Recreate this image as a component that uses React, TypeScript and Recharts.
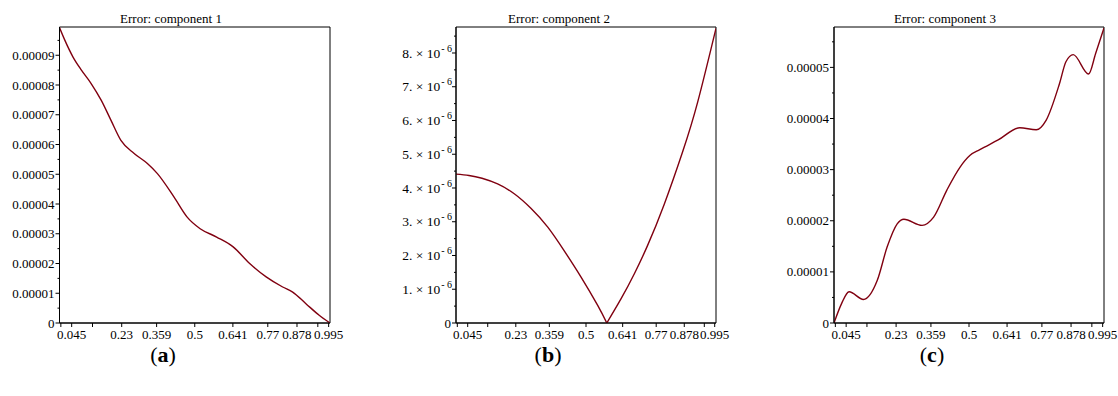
import React from 'react';
import { LineChart, Line, XAxis, YAxis, ReferenceArea } from 'recharts';

// shared x axis: node positions, labels shown only where they fit
const xTicks = [0.005, 0.045, 0.122, 0.23, 0.359, 0.5, 0.641, 0.77, 0.878, 0.955, 0.995];
const xTickLabels = ['', '0.045', '', '0.23', '0.359', '0.5', '0.641', '0.77', '0.878', '', '0.995'];

// component 1
const xA = [0, 0.02, 0.05, 0.081, 0.117, 0.154, 0.19, 0.227, 0.276, 0.325, 0.362, 0.423, 0.472, 0.52, 0.581, 0.642, 0.703, 0.764, 0.825, 0.862, 0.911, 0.96, 1.0];
const errA = [9.93e-5, 9.5e-5, 8.94e-5, 8.5e-5, 8.05e-5, 7.49e-5, 6.82e-5, 6.14e-5, 5.7e-5, 5.36e-5, 5.02e-5, 4.24e-5, 3.56e-5, 3.17e-5, 2.89e-5, 2.56e-5, 2.0e-5, 1.55e-5, 1.21e-5, 1.04e-5, 0.65e-5, 0.26e-5, 0];
const yTicksA = [0, 1e-5, 2e-5, 3e-5, 4e-5, 5e-5, 6e-5, 7e-5, 8e-5, 9e-5];
const yLabelsA = ['0', '0.00001', '0.00002', '0.00003', '0.00004', '0.00005', '0.00006', '0.00007', '0.00008', '0.00009'];
const yTopA = 9.95e-5;

// component 2 (touches zero at x = 0.58)
const xB = [0, 0.05, 0.1, 0.16, 0.224, 0.288, 0.353, 0.417, 0.481, 0.545, 0.58, 0.635, 0.686, 0.737, 0.801, 0.872, 0.93, 1.0];
const errB = [4.41e-6, 4.37e-6, 4.29e-6, 4.12e-6, 3.83e-6, 3.4e-6, 2.84e-6, 2.13e-6, 1.36e-6, 0.52e-6, 0, 0.72e-6, 1.46e-6, 2.3e-6, 3.52e-6, 5.08e-6, 6.56e-6, 8.73e-6];
const yTicksB = [0, 1e-6, 2e-6, 3e-6, 4e-6, 5e-6, 6e-6, 7e-6, 8e-6];
const yMantissaB = ['0', '1.', '2.', '3.', '4.', '5.', '6.', '7.', '8.'];
const yTopB = 8.77e-6;

// component 3
const xC = [0, 0.028, 0.056, 0.109, 0.16, 0.197, 0.234, 0.259, 0.326, 0.369, 0.418, 0.467, 0.504, 0.54, 0.608, 0.688, 0.749, 0.786, 0.835, 0.859, 0.886, 0.943, 0.969, 1.0];
const errC = [0, 0.38e-5, 0.61e-5, 0.46e-5, 0.83e-5, 1.49e-5, 1.94e-5, 2.03e-5, 1.91e-5, 2.07e-5, 2.6e-5, 3.05e-5, 3.28e-5, 3.39e-5, 3.58e-5, 3.82e-5, 3.78e-5, 3.97e-5, 4.68e-5, 5.11e-5, 5.25e-5, 4.87e-5, 5.27e-5, 5.77e-5];
const yTicksC = [0, 1e-5, 2e-5, 3e-5, 4e-5, 5e-5];
const yLabelsC = ['0', '0.00001', '0.00002', '0.00003', '0.00004', '0.00005'];
const yTopC = 5.79e-5;

const FONT = '"Liberation Serif", "Times New Roman", serif';
const LINE = '#800010';
const CHART_H = 350;
const TICK_FS = 13;

// major ticks plus one minor tick halfway between each pair
function withMinor(major: number[], top: number) {
  const step = major[1] - major[0];
  const out: number[] = [];
  major.forEach((m) => {
    out.push(m);
    if (m + step / 2 < top) out.push(m + step / 2);
  });
  return out;
}

function findIndex(list: number[], v: number) {
  return list.findIndex((t) => Math.abs(t - v) < 1e-12);
}

function XTick({ x, y, payload }: any) {
  const i = findIndex(xTicks, payload.value);
  const label = i >= 0 ? xTickLabels[i] : '';
  return (
    <g>
      <line x1={x} y1={y} x2={x} y2={y + 4} stroke="#000" strokeWidth={1} />
      {label && (
        <text x={x} y={y + 15.5} textAnchor="middle" fontFamily={FONT} fontSize={TICK_FS} fill="#000">
          {label}
        </text>
      )}
    </g>
  );
}

function makeYTick(major: number[], labels: string[], sci: boolean) {
  return function YTick({ x, y, payload }: any) {
    const i = findIndex(major, payload.value);
    if (i < 0) {
      return <line x1={x - 2} y1={y} x2={x} y2={y} stroke="#000" strokeWidth={1} />;
    }
    const label = labels[i];
    return (
      <g>
        <line x1={x - 4} y1={y} x2={x} y2={y} stroke="#000" strokeWidth={1} />
        {sci && label !== '0' ? (
          <text x={x - 4} y={y} dy="0.35em" textAnchor="end" fontFamily={FONT} fontSize={13.5} fill="#000">
            <tspan>{label + '\u00a0\u00d7\u00a010'}</tspan>
            <tspan dx={1} dy={-6} fontSize={10}>{'-\u00a06'}</tspan>
          </text>
        ) : (
          <text x={x - 5} y={y} dy="0.35em" textAnchor="end" fontFamily={FONT} fontSize={TICK_FS} fill="#000">
            {label}
          </text>
        )}
      </g>
    );
  };
}

interface PanelProps {
  left: number;
  width: number;
  axisWidth: number;
  marginRight: number;
  title: string;
  titleX: number;
  caption: string;
  captionX: number;
  yTop: number;
  yMajor: number[];
  yLabels: string[];
  sci?: boolean;
  curve: 'monotone' | 'natural';
  data: Record<string, number | null>[];
  keys: string[];
}

function Panel(p: PanelProps) {
  const YTick = makeYTick(p.yMajor, p.yLabels, !!p.sci);
  return (
    <>
      <div
        style={{
          position: 'absolute',
          left: p.titleX,
          top: 12,
          transform: 'translateX(-50%)',
          fontFamily: FONT,
          fontSize: 13,
          lineHeight: '13px',
          whiteSpace: 'nowrap',
        }}
      >
        {p.title}
      </div>
      <div style={{ position: 'absolute', left: p.left, top: 0 }}>
        <LineChart
          width={p.width}
          height={CHART_H}
          data={p.data}
          margin={{ top: 27, right: p.marginRight, bottom: 0, left: 0 }}
        >
          <XAxis
            dataKey="x"
            type="number"
            domain={[0, 1]}
            allowDataOverflow
            ticks={xTicks}
            interval={0}
            tick={<XTick />}
            tickSize={0}
            tickMargin={0}
            tickLine={false}
            height={27}
            axisLine={{ stroke: '#000' }}
          />
          <YAxis
            type="number"
            domain={[0, p.yTop]}
            allowDataOverflow
            ticks={withMinor(p.yMajor, p.yTop)}
            interval={0}
            tick={<YTick />}
            tickSize={0}
            tickMargin={0}
            tickLine={false}
            width={p.axisWidth}
            axisLine={{ stroke: '#000' }}
          />
          <ReferenceArea x1={0} x2={1} y1={0} y2={p.yTop} fill="none" stroke="#000" strokeWidth={1} />
          {p.keys.map((k) => (
            <Line
              key={k}
              dataKey={k}
              type={p.curve}
              stroke={LINE}
              strokeWidth={1.4}
              dot={false}
              activeDot={false}
              connectNulls={false}
              isAnimationActive={false}
            />
          ))}
        </LineChart>
      </div>
      <div
        style={{
          position: 'absolute',
          left: p.captionX,
          top: 342,
          transform: 'translateX(-50%)',
          fontFamily: FONT,
          fontSize: 22,
          lineHeight: '26px',
          whiteSpace: 'nowrap',
        }}
      >
        (<b>{p.caption}</b>)
      </div>
    </>
  );
}

const dataA = xA.map((x, i) => ({ x, v: errA[i] }));
const zeroB = errB.indexOf(0);
const dataB = xB.map((x, i) => ({
  x,
  left: i <= zeroB ? errB[i] : null,
  right: i >= zeroB ? errB[i] : null,
}));
const dataC = xC.map((x, i) => ({ x, v: errC[i] }));

export default function App() {
  return (
    <div style={{ position: 'fixed', left: 0, top: 0, width: 1118, height: 396, background: '#fff' }}>
      <Panel
        left={0}
        width={350}
        axisWidth={59.5}
        marginRight={20}
        title="Error: component 1"
        titleX={171}
        caption="a"
        captionX={163}
        yTop={yTopA}
        yMajor={yTicksA}
        yLabels={yLabelsA}
        curve="monotone"
        data={dataA}
        keys={['v']}
      />
      <Panel
        left={380}
        width={360}
        axisWidth={76}
        marginRight={24}
        title="Error: component 2"
        titleX={559}
        caption="b"
        captionX={548}
        yTop={yTopB}
        yMajor={yTicksB}
        yLabels={yMantissaB}
        sci
        curve="natural"
        data={dataB}
        keys={['left', 'right']}
      />
      <Panel
        left={760}
        width={358}
        axisWidth={74}
        marginRight={14}
        title="Error: component 3"
        titleX={945}
        caption="c"
        captionX={932}
        yTop={yTopC}
        yMajor={yTicksC}
        yLabels={yLabelsC}
        curve="monotone"
        data={dataC}
        keys={['v']}
      />
    </div>
  );
}
